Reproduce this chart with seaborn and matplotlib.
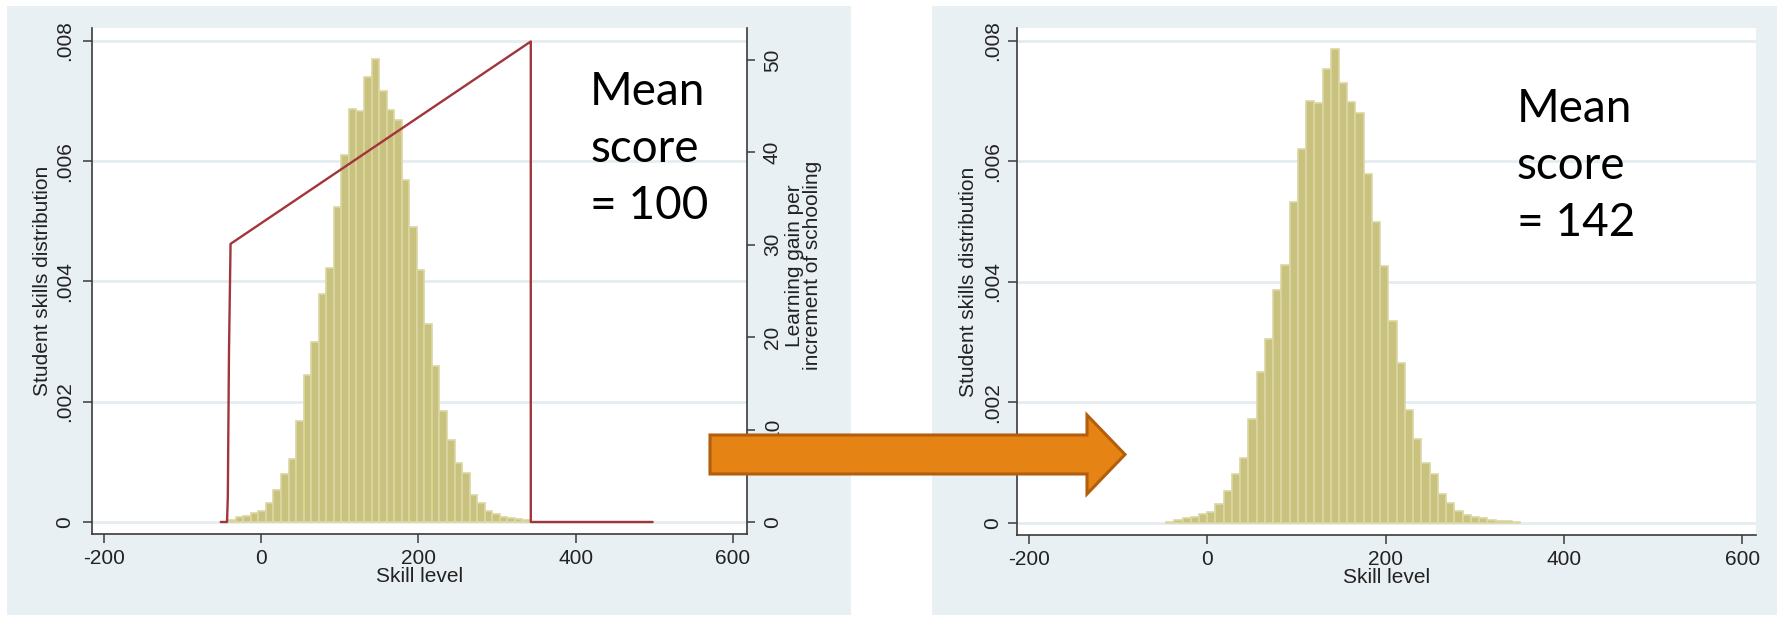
import numpy as np
import pandas as pd
import matplotlib
matplotlib.use("Agg")
import matplotlib.pyplot as plt
import seaborn as sns
from matplotlib.patches import Rectangle, Polygon

# --- data ---
# left panel: skills distribution before, 40 bins
left_start = -42.0
left_width = 9.6
left_density = [0.000033, 0.000078, 0.000105, 0.000144, 0.000189, 0.000322, 0.000532,
                0.000793, 0.001042, 0.001685, 0.002445, 0.003000, 0.003792, 0.004219,
                0.005245, 0.006098, 0.006869, 0.006841, 0.007407, 0.007700, 0.007168,
                0.006852, 0.006686, 0.005688, 0.004901, 0.004191, 0.003293, 0.002600,
                0.001852, 0.001364, 0.000976, 0.000809, 0.000449, 0.000322, 0.000189,
                0.000133, 0.000089, 0.000061, 0.000050, 0.000033]

# right panel: skills distribution after, 43 bins
right_start = -46.3
right_width = 9.24
right_density = [0.000022, 0.000044, 0.000089, 0.000105, 0.000144, 0.000189, 0.000322,
                 0.000532, 0.000809, 0.001070, 0.001724, 0.002500, 0.003055, 0.003859,
                 0.004285, 0.005328, 0.006215, 0.007008, 0.006974, 0.007529, 0.007861,
                 0.007307, 0.006980, 0.006808, 0.005799, 0.004995, 0.004269, 0.003349,
                 0.002650, 0.001879, 0.001386, 0.001003, 0.000809, 0.000477, 0.000338,
                 0.000200, 0.000133, 0.000105, 0.000078, 0.000055, 0.000040, 0.000030,
                 0.000022]

# learning gain per increment of schooling (right axis of left panel)
gain_x = [-51.5, -43.5, -42.5, -41.0, -39.0, 343.0, 343.0, 498.0]
gain_y = [0.0, 0.0, 2.7, 18.4, 30.1, 52.0, 0.0, 0.0]

density_ticks = [0, 0.002, 0.004, 0.006, 0.008]
density_labels = ["0", ".002", ".004", ".006", ".008"]
skill_ticks = [-200, 0, 200, 400, 600]
gain_ticks = [0, 10, 20, 30, 40, 50]

mean_lines_left = ["Mean", "score", "= 100"]
mean_lines_right = ["Mean", "score", "= 142"]

# --- style ---
BG = "#e9f0f3"
GRID = "#e5edf0"
BAR = "#c9c17e"
BAR_EDGE = "#dcd7a3"
RED = "#a1353b"
AXIS = "#3a3a3a"
W, H = 1781, 617

sns.set_theme(style="white")
plt.rcParams["font.family"] = ["Liberation Sans", "DejaVu Sans"]


def fig_rect(x0, y0, x1, y1):
    # pixel box (top-left origin) -> figure fraction [l, b, w, h]
    return [x0 / W, 1 - y1 / H, (x1 - x0) / W, (y1 - y0) / H]


def draw_hist(ax, start, width, dens):
    n = len(dens)
    edges = start + width * np.arange(n + 1)
    df = pd.DataFrame({"skill": edges[:-1] + width / 2, "density": dens})
    sns.histplot(data=df, x="skill", weights="density", bins=list(edges),
                 stat="count", color=BAR, edgecolor=BAR_EDGE, linewidth=1.2,
                 alpha=1, ax=ax, zorder=2)


def style_panel(ax, xlim, ylabel_x, ytick_pad):
    ax.set_facecolor("white")
    ax.set_xlim(*xlim)
    ax.set_ylim(-0.0002, 0.008216)
    ax.set_xticks(skill_ticks)
    ax.set_xticklabels([str(t) for t in skill_ticks])
    ax.set_yticks(density_ticks)
    ax.set_yticklabels(density_labels)
    for y in density_ticks:
        ax.axhline(y, color=GRID, lw=2.0, zorder=1)
    for side in ["top", "right"]:
        ax.spines[side].set_visible(False)
    for side in ["left", "bottom"]:
        ax.spines[side].set_color(AXIS)
        ax.spines[side].set_linewidth(1.2)
    ax.tick_params(axis="x", length=6.5, width=1.1, color=AXIS, pad=4,
                   labelsize=15, labelcolor="#222222", bottom=True)
    ax.tick_params(axis="y", length=6.5, width=1.1, color=AXIS, pad=ytick_pad,
                   labelsize=15, labelcolor="#222222", left=True)
    plt.setp(ax.get_yticklabels(), rotation=90, va="center")
    ax.set_xlabel("Skill level", fontsize=15, color="#222222")
    ax.set_ylabel("Student skills distribution", fontsize=15, color="#222222")
    ax.xaxis.set_label_coords(0.5, -0.066)
    ax.yaxis.set_label_coords(ylabel_x, 0.5)


fig = plt.figure(figsize=(W / 100, H / 100), dpi=100)
fig.patch.set_facecolor("white")

# panel backgrounds
for x0, x1 in [(7, 851), (932, 1777)]:
    l, b, w, h = fig_rect(x0, 6, x1, 615)
    fig.add_artist(Rectangle((l, b), w, h, transform=fig.transFigure,
                             facecolor=BG, edgecolor="none", zorder=-5))

# left panel
ax1 = fig.add_axes(fig_rect(92, 28, 747, 534))
draw_hist(ax1, left_start, left_width, left_density)
style_panel(ax1, (-215.3, 618.1), -0.061, 6.5)

ax1b = ax1.twinx()
sns.lineplot(x=gain_x, y=gain_y, sort=False, estimator=None, color=RED,
             lw=1.7, ax=ax1b)
ax1b.set_ylim(-1.3, 53.46)
ax1b.set_yticks(gain_ticks)
ax1b.set_yticklabels([str(t) for t in gain_ticks])
for side in ["top", "left", "bottom"]:
    ax1b.spines[side].set_visible(False)
ax1b.spines["right"].set_color(AXIS)
ax1b.spines["right"].set_linewidth(1.2)
ax1b.tick_params(axis="y", length=6, width=1.1, color=AXIS, pad=5.5,
                 labelsize=15, labelcolor="#222222", right=True)
plt.setp(ax1b.get_yticklabels(), rotation=90, va="center")
ax1b.set_ylabel("Learning gain per\nincrement of schooling", fontsize=15,
                color="#222222", linespacing=0.95)
ax1b.yaxis.set_label_coords(1.058, 0.53)

# right panel
ax2 = fig.add_axes(fig_rect(1017, 28, 1756, 535))
draw_hist(ax2, right_start, right_width, right_density)
style_panel(ax2, (-213.5, 615.5), -0.053, 4.3)

# annotations
for lines, x0, y0 in [(mean_lines_left, 590, 105), (mean_lines_right, 1517, 122)]:
    for i, s in enumerate(lines):
        fig.text(x0 / W, 1 - (y0 + 57 * i) / H, s, fontsize=33, family="Lato",
                 color="black", va="baseline", ha="left")

# orange arrow between panels
arrow_px = [(710, 435), (1087, 435), (1087, 415), (1125, 454.5),
            (1087, 494), (1087, 474), (710, 474)]
arrow_pts = [(x / W, 1 - y / H) for x, y in arrow_px]
fig.add_artist(Polygon(arrow_pts, closed=True, transform=fig.transFigure,
                       facecolor="#e58314", edgecolor="#b25e0c", lw=2.2,
                       zorder=10))

fig.savefig("out.png", dpi=100)
